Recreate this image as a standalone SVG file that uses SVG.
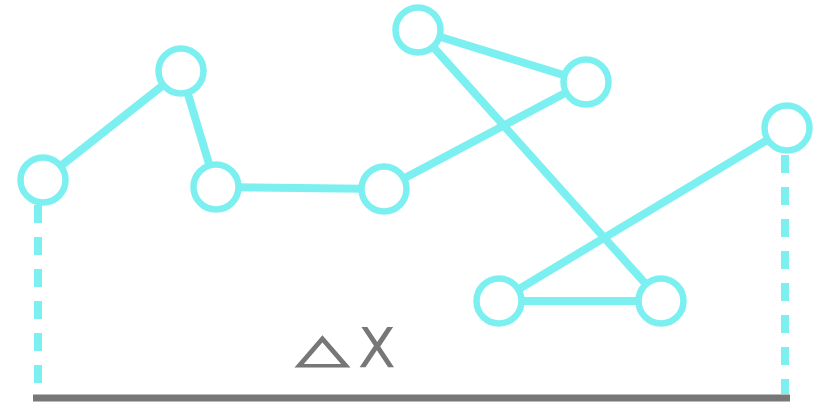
<svg xmlns="http://www.w3.org/2000/svg" width="825" height="405" viewBox="0 0 825 405">
<style>
.node{fill:#ffffff;stroke:#7CF0F0;stroke-width:6.5}
.edge{stroke:#7CF0F0;stroke-width:8;fill:none}
.dash{stroke:#7CF0F0;stroke-width:8;stroke-dasharray:18 14;fill:none}
.base{stroke:#777777;stroke-width:7}
.lbl{fill:#777777;font-family:"DejaVu Sans",sans-serif}
</style>
<rect width="825" height="405" fill="#ffffff"/>
<g id="connectors">
<line class="dash" x1="38" y1="205" x2="38" y2="394"/>
<line class="dash" x1="785" y1="155" x2="785" y2="394"/>
<line class="base" x1="33" y1="398" x2="790" y2="398"/>
<polyline class="edge" points="43,180 181,71 216,187 384,189 586,82 418,30 661,301 499,301 787,128"/>
</g>
<g id="n1"><circle class="node" cx="43" cy="180" r="22.5"/></g>
<g id="n2"><circle class="node" cx="181" cy="71" r="22.5"/></g>
<g id="n3"><circle class="node" cx="216" cy="187" r="22.5"/></g>
<g id="n4"><circle class="node" cx="384" cy="189" r="22.5"/></g>
<g id="n5"><circle class="node" cx="586" cy="82" r="22.5"/></g>
<g id="n6"><circle class="node" cx="418" cy="30" r="22.5"/></g>
<g id="n7"><circle class="node" cx="661" cy="301" r="22.5"/></g>
<g id="n8"><circle class="node" cx="499" cy="301" r="22.5"/></g>
<g id="n9"><circle class="node" cx="787" cy="128" r="22.5"/></g>
<g id="label"><text class="lbl" transform="translate(296,362) scale(1.25,0.72)" font-size="55" stroke="#777777" stroke-width="1.8">△</text><text class="lbl" x="358" y="367" font-size="55">X</text></g>
</svg>
